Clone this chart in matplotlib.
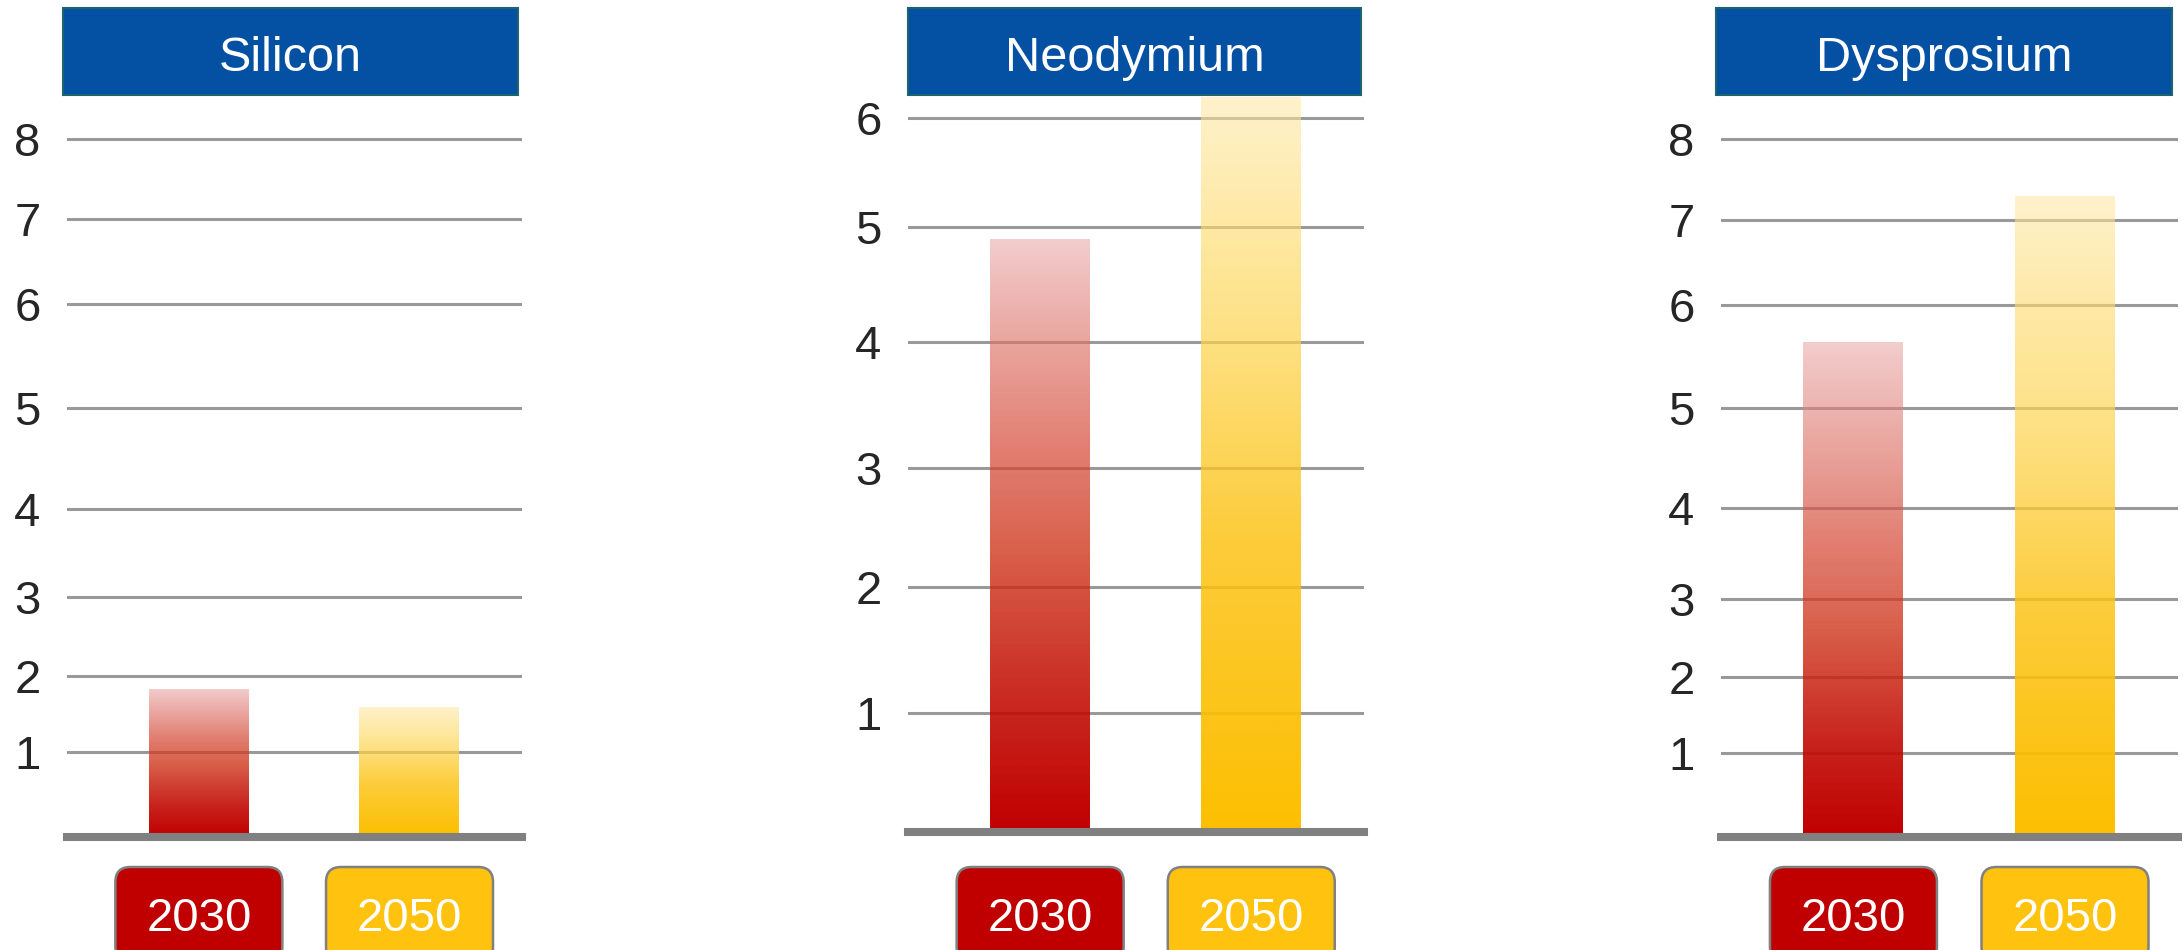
import numpy as np
import matplotlib.pyplot as plt
from matplotlib.patches import Rectangle, FancyBboxPatch
from matplotlib.transforms import IdentityTransform
from matplotlib.colors import to_rgb

plt.rcParams['font.family'] = ['Liberation Sans', 'DejaVu Sans']

# Datos
materials = ['Silicon', 'Neodymium', 'Dysprosium']
years = ['2030', '2050']
values_2030 = [1.84, 4.9, 5.65]
values_2050 = [1.6, 6.2, 7.3]
tick_max = [8, 6, 8]

# Colores
year_colors = ['#C00000', '#FFC20E']
title_color = '#0450A2'
grad_red = [(0.0, (242, 205, 205)), (0.35, (226, 128, 115)), (0.55, (216, 92, 70)),
            (0.8, (200, 35, 28)), (1.0, (192, 0, 0))]
grad_yellow = [(0.0, (255, 242, 204)), (0.35, (254, 225, 130)), (0.6, (253, 205, 60)),
               (1.0, (253, 191, 0))]

# Layout en pixeles (desde arriba de la imagen)
W, H = 2183, 950
panel_left = [67, 908, 1721]
panel_right = [522, 1364, 2178]
title_left = [63, 908, 1716]
title_right = [518, 1361, 2172]
title_top, title_bottom = 8, 95
# filas de las lineas de la grilla 0..n (espaciado irregular, dibujado a mano)
grid_rows = [
    [837, 752, 676, 597, 509, 408, 304, 219, 139],
    [832, 713, 587, 468, 342, 227, 118],
    [837, 753, 677, 599, 508, 408, 305, 220, 139],
]
box_w, box_top, box_bottom = 167, 867, 962


def make_scale(rows):
    rows = np.array(rows, float)
    h = rows[0] - rows
    v = np.arange(len(rows), dtype=float)
    v = np.concatenate([[-50.0], v, [v[-1] + 50]])
    h = np.concatenate([[h[0] - 50 * (h[1] - h[0])], h, [h[-1] + 50 * (h[-1] - h[-2])]])
    return (lambda y: np.interp(y, v, h)), (lambda p: np.interp(p, h, v))


def gradient(stops, n=256, a_top=0.55):
    t = np.linspace(0, 1, n)
    pos = [s[0] for s in stops]
    rgb = np.array([s[1] for s in stops], float)
    target = np.stack([np.interp(t, pos, rgb[:, k]) for k in range(3)], axis=1)
    alpha = a_top + (1 - a_top) * t
    col = (target - (1 - alpha[:, None]) * 255) / alpha[:, None]
    img = np.zeros((n, 1, 4))
    img[:, 0, :3] = np.clip(col / 255, 0, 1)
    img[:, 0, 3] = alpha
    return img


grads = [gradient(grad_red), gradient(grad_yellow)]

fig = plt.figure(figsize=(W / 100, H / 100), dpi=100)

positions = [0, 1]
bw = 0.475
xlim = (-0.626, 1.534)

for i, name in enumerate(materials):
    rows = grid_rows[i]
    base = rows[0]
    ax = fig.add_axes([panel_left[i] / W, (H - base) / H,
                       (panel_right[i] - panel_left[i]) / W, (base - title_bottom) / H])
    fwd, inv = make_scale(rows)
    ax.set_yscale('function', functions=(fwd, inv))

    vals = [values_2030[i], values_2050[i]]
    bars = ax.bar(positions, vals, bw, color='none', zorder=2)
    for j, b in enumerate(bars):
        im = ax.imshow(grads[j], extent=(positions[j] - bw / 2, positions[j] + bw / 2, 0, vals[j]),
                       aspect='auto', interpolation='bilinear', zorder=2)
        im.set_clip_path(b)

    ax.set_xlim(*xlim)
    ax.set_ylim(0, float(inv(base - title_bottom)))
    ax.set_yticks(range(1, tick_max[i] + 1))
    ax.set_yticklabels([str(k) for k in range(1, tick_max[i] + 1)])
    ax.set_xticks([])
    ax.yaxis.grid(True, color='#999999', linewidth=2.2)
    ax.set_axisbelow(True)
    ax.tick_params(axis='y', length=0, pad=19, labelsize=34, labelcolor='#262626')
    for s in ax.spines.values():
        s.set_visible(False)
    ax.axhline(0, color='#808080', linewidth=5.8, zorder=3, clip_on=False)

    # caja del titulo
    fig.add_artist(Rectangle((title_left[i], H - title_bottom), title_right[i] - title_left[i],
                             title_bottom - title_top, transform=IdentityTransform(),
                             facecolor=title_color, edgecolor='#1E6470', linewidth=1.5))
    fig.text((title_left[i] + title_right[i]) / 2, H - 71, name, transform=IdentityTransform(),
             ha='center', va='baseline', color='white', fontsize=35)

    # cajas de los anios
    for j, yr in enumerate(years):
        cx = ax.transData.transform((positions[j], 0))[0]
        fig.add_artist(FancyBboxPatch((cx - box_w / 2, H - box_bottom), box_w, box_bottom - box_top,
                                      boxstyle='round,pad=0,rounding_size=15',
                                      transform=IdentityTransform(), facecolor=year_colors[j],
                                      edgecolor='#808080', linewidth=1.8))
        fig.text(cx, H - 931, yr, transform=IdentityTransform(), ha='center', va='baseline',
                 color='white', fontsize=34)

fig.savefig('out.png', dpi=100)
